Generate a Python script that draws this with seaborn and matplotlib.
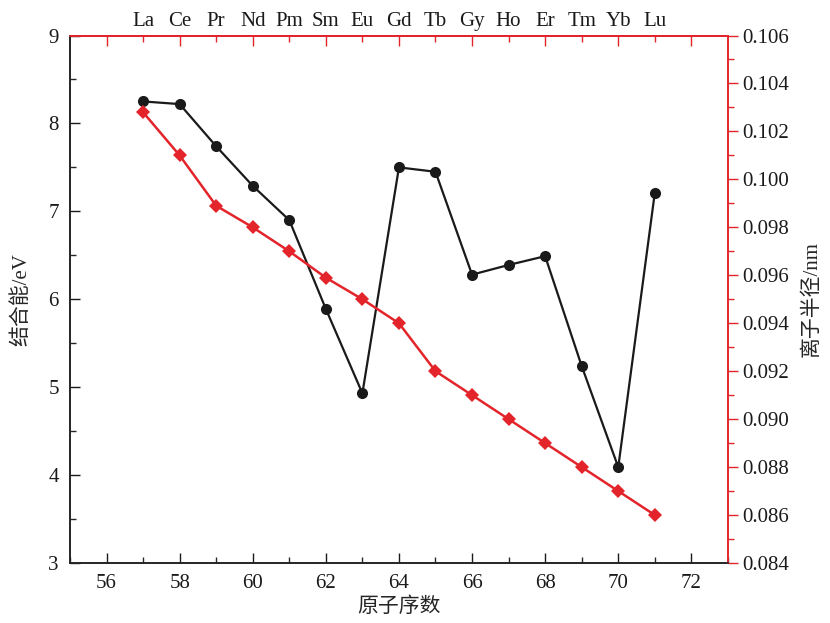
import seaborn as sns
import pandas as pd
import matplotlib.pyplot as plt
from matplotlib.ticker import MultipleLocator, FormatStrFormatter

sns.set_theme(style="ticks", rc={"axes.linewidth": 1.2})
plt.rcParams["font.family"] = ["Liberation Serif", "Noto Sans CJK SC"]

# 原子序数 / 元素
atomic_number = list(range(57, 72))
elements = ["La", "Ce", "Pr", "Nd", "Pm", "Sm", "Eu", "Gd", "Tb", "Gy", "Ho", "Er", "Tm", "Yb", "Lu"]
# 结合能 (eV)
binding_energy = [8.25, 8.22, 7.74, 7.29, 6.90, 5.89, 4.93, 7.50, 7.45, 6.28, 6.39, 6.49, 5.24, 4.09, 7.21]
# 离子半径 (nm)
ionic_radius = [0.1028, 0.1010, 0.0989, 0.0980, 0.0970, 0.0959, 0.0950, 0.0940,
                0.0920, 0.0910, 0.0900, 0.0890, 0.0880, 0.0870, 0.0860]

df = pd.DataFrame({"z": atomic_number, "e": binding_energy, "r": ionic_radius})

red = "#e3242b"
fs = 15

fig = plt.figure(figsize=(8.3, 6.23), dpi=100)
ax = fig.add_axes([0.0843, 0.0963, 0.7927, 0.8467])
ax2 = ax.twinx()

sns.lineplot(data=df, x="z", y="e", ax=ax, color="#1a1a1a", marker="o",
             markersize=8, markeredgewidth=0, linewidth=1.6, zorder=3)
sns.lineplot(data=df, x="z", y="r", ax=ax2, color=red, marker="D",
             markersize=7.5, markeredgewidth=0, linewidth=1.8, zorder=3)

ax.xaxis.set_major_locator(MultipleLocator(2))
ax.xaxis.set_minor_locator(MultipleLocator(1))
ax.yaxis.set_major_locator(MultipleLocator(1))
ax.yaxis.set_minor_locator(MultipleLocator(0.5))
ax2.yaxis.set_major_locator(MultipleLocator(0.002))
ax2.yaxis.set_minor_locator(MultipleLocator(0.001))
ax2.yaxis.set_major_formatter(FormatStrFormatter("%.3f"))

ax.set_xlim(55, 73)
ax.set_ylim(3, 9)
ax2.set_ylim(0.084, 0.106)

ax.tick_params(axis="both", which="major", direction="in", length=7, width=1, labelsize=fs, colors="#1a1a1a")
ax.tick_params(axis="both", which="minor", direction="in", length=4, width=1)
ax.tick_params(axis="x", pad=8)
ax.tick_params(axis="y", pad=8)
ax2.tick_params(axis="y", which="major", direction="out", length=7, width=1, color=red,
                labelcolor="#1a1a1a", labelsize=fs)
ax2.tick_params(axis="y", which="minor", direction="out", length=4, width=1, color=red)

for s in ["left", "bottom"]:
    ax.spines[s].set_color("#1a1a1a")
for a in (ax, ax2):
    a.spines["top"].set_color(red)
    a.spines["right"].set_color(red)

# top axis with element symbols
top = ax.secondary_xaxis("top")
top.spines["top"].set_color(red)
top.set_xticks(list(range(56, 73, 2)))
top.set_xticklabels([""] + [elements[i] for i in range(1, 15, 2)] + [""])
top.set_xticks([atomic_number[i] for i in range(0, 15, 2)], minor=True,
               labels=[elements[i] for i in range(0, 15, 2)])
top.tick_params(axis="x", which="major", direction="in", length=7, width=1, color=red,
                labelcolor="#1a1a1a", labelsize=fs, pad=3)
top.tick_params(axis="x", which="minor", direction="in", length=4, width=1, color=red,
                labelcolor="#1a1a1a", labelsize=fs, pad=3)

ax.set_xlabel("原子序数", fontsize=fs, labelpad=3)
ax.set_ylabel("结合能/eV", fontsize=fs, labelpad=12)
ax2.set_ylabel("离子半径/nm", fontsize=fs, labelpad=9)

fig.savefig("out.png", dpi=100)
